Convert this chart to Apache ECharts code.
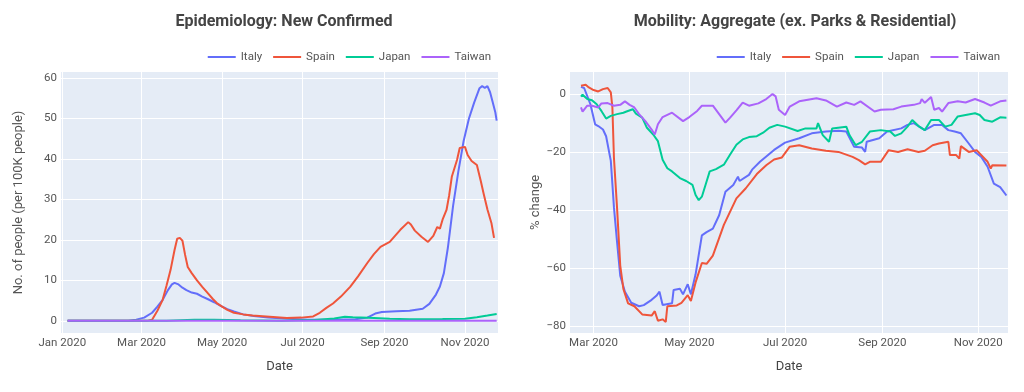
<!DOCTYPE html>
<html><head><meta charset="utf-8">
<script src="https://cdn.jsdelivr.net/npm/echarts@6/dist/echarts.min.js"></script>
<style>html,body{margin:0;padding:0;background:#fff}#c{width:1024px;height:392px}</style>
</head><body><div id="c"></div>
<script>
// ---------- DATA ----------
const seriesNames = ['Italy', 'Spain', 'Japan', 'Taiwan'];
const leftTitle = 'Epidemiology: New Confirmed';
const rightTitle = 'Mobility: Aggregate (ex. Parks & Residential)';
const leftYName = 'No. of people (per 100K people)';
const rightYName = '% change';
const xName = 'Date';

const leftXTicks = ['2020-01-01','2020-03-01','2020-05-01','2020-07-01','2020-09-01','2020-11-01'];
const rightXTicks = ['2020-03-01','2020-05-01','2020-07-01','2020-09-01','2020-11-01'];
const leftYTicks = [0, 10, 20, 30, 40, 50, 60];
const rightYTicks = [-80, -60, -40, -20, 0];

// Epidemiology (new confirmed per 100K)
const italyCasesDates = ['2020-01-05','2020-02-20','2020-02-26','2020-03-03','2020-03-09','2020-03-13','2020-03-17','2020-03-21','2020-03-24','2020-03-26','2020-03-29','2020-04-01','2020-04-04','2020-04-08','2020-04-12','2020-04-16','2020-04-20','2020-04-25','2020-04-30','2020-05-05','2020-05-10','2020-05-17','2020-05-25','2020-06-05','2020-06-20','2020-07-05','2020-07-25','2020-08-10','2020-08-19','2020-08-25','2020-08-30','2020-09-10','2020-09-20','2020-09-30','2020-10-05','2020-10-10','2020-10-13','2020-10-16','2020-10-19','2020-10-23','2020-10-27','2020-10-31','2020-11-04','2020-11-08','2020-11-12','2020-11-14','2020-11-16','2020-11-18','2020-11-20','2020-11-22','2020-11-24','2020-11-25'];
const italyCases = [0,0,0.3,0.8,2.0,3.5,5.2,7.6,9.0,9.4,9.0,8.2,7.6,7.0,6.7,6.0,5.4,4.6,3.7,2.9,2.3,1.6,1.2,0.8,0.5,0.3,0.3,0.4,0.8,1.8,2.2,2.4,2.5,3.0,4.2,6.5,8.5,11.8,18.0,28.5,37.0,44.5,50.0,54.0,57.5,58.0,57.6,58.0,56.5,54.0,51.5,49.5];

const spainCasesDates = ['2020-01-05','2020-03-05','2020-03-09','2020-03-13','2020-03-17','2020-03-20','2020-03-23','2020-03-26','2020-03-28','2020-03-30','2020-04-01','2020-04-03','2020-04-05','2020-04-08','2020-04-12','2020-04-16','2020-04-20','2020-04-24','2020-04-27','2020-05-01','2020-05-05','2020-05-10','2020-05-17','2020-05-24','2020-06-06','2020-06-19','2020-06-30','2020-07-09','2020-07-14','2020-07-19','2020-07-24','2020-07-30','2020-08-06','2020-08-12','2020-08-19','2020-08-24','2020-08-29','2020-09-05','2020-09-09','2020-09-13','2020-09-19','2020-09-21','2020-09-24','2020-09-29','2020-10-04','2020-10-08','2020-10-11','2020-10-13','2020-10-15','2020-10-18','2020-10-20','2020-10-22','2020-10-26','2020-10-28','2020-11-01','2020-11-03','2020-11-06','2020-11-10','2020-11-13','2020-11-15','2020-11-18','2020-11-21','2020-11-23'];
const spainCases = [0,0,0.3,2.5,5.2,8.8,12.6,17.5,20.3,20.5,19.8,16.3,13.3,11.8,10.0,8.4,6.9,5.4,4.4,3.5,2.7,2.0,1.6,1.3,1.0,0.7,0.8,1.1,2.0,3.2,4.3,6.0,8.4,11.0,14.3,16.5,18.3,19.5,21.0,22.5,24.4,23.8,22.3,20.8,19.5,21.0,23.2,22.8,25.0,27.4,31.0,35.6,39.8,42.7,43.0,41.0,39.5,38.5,34.5,31.6,27.5,24.2,20.5];

const japanCasesDates = ['2020-01-05','2020-03-20','2020-04-10','2020-04-25','2020-05-15','2020-06-15','2020-07-10','2020-07-25','2020-08-02','2020-08-08','2020-08-20','2020-09-05','2020-09-20','2020-10-15','2020-11-01','2020-11-10','2020-11-18','2020-11-25'];
const japanCases = [0,0.05,0.25,0.3,0.15,0.05,0.2,0.6,1.0,0.9,0.75,0.5,0.4,0.45,0.5,0.9,1.3,1.7];

const taiwanCasesDates = ['2020-01-05','2020-04-01','2020-07-01','2020-10-01','2020-11-25'];
const taiwanCases = [0,0,0,0,0];

// Mobility (% change)
const italyMobDates = ['2020-02-22','2020-02-24','2020-02-28','2020-03-02','2020-03-04','2020-03-07','2020-03-09','2020-03-12','2020-03-14','2020-03-16','2020-03-18','2020-03-21','2020-03-25','2020-03-30','2020-04-02','2020-04-07','2020-04-10','2020-04-12','2020-04-14','2020-04-20','2020-04-21','2020-04-25','2020-04-27','2020-04-30','2020-05-02','2020-05-05','2020-05-09','2020-05-12','2020-05-16','2020-05-20','2020-05-24','2020-05-29','2020-06-01','2020-06-02','2020-06-08','2020-06-10','2020-06-15','2020-06-24','2020-07-01','2020-07-10','2020-07-18','2020-07-27','2020-08-04','2020-08-09','2020-08-14','2020-08-19','2020-08-21','2020-08-22','2020-08-30','2020-09-04','2020-09-13','2020-09-17','2020-09-21','2020-09-28','2020-10-04','2020-10-09','2020-10-13','2020-10-17','2020-10-21','2020-10-26','2020-10-30','2020-11-03','2020-11-07','2020-11-11','2020-11-15','2020-11-19'];
const italyMob = [2.5,2.1,-3.5,-10.4,-11.0,-12.2,-14.5,-23,-39,-51,-62.5,-68,-71.8,-73,-72.6,-70.8,-69.4,-68,-72.6,-72,-67.4,-67,-68.9,-65.4,-68.9,-62,-48.6,-47.5,-46.3,-41.7,-33.6,-31.3,-28.4,-29.9,-27.8,-26,-23.3,-19.2,-16.7,-15.2,-13.5,-12.9,-12.6,-12.9,-18.1,-18.4,-19.9,-16.4,-15.2,-12.9,-11.8,-10.6,-10,-12.4,-10.6,-10.6,-12.4,-12.9,-13.5,-17,-19.9,-21.6,-25,-30.8,-32,-34.9];

const spainMobDates = ['2020-02-22','2020-02-25','2020-02-27','2020-03-01','2020-03-04','2020-03-07','2020-03-10','2020-03-12','2020-03-13','2020-03-14','2020-03-16','2020-03-18','2020-03-20','2020-03-23','2020-03-27','2020-04-01','2020-04-07','2020-04-09','2020-04-11','2020-04-14','2020-04-16','2020-04-17','2020-04-23','2020-04-26','2020-04-30','2020-05-02','2020-05-05','2020-05-09','2020-05-12','2020-05-16','2020-05-23','2020-05-31','2020-06-06','2020-06-13','2020-06-19','2020-06-24','2020-06-29','2020-07-04','2020-07-10','2020-07-18','2020-07-27','2020-08-04','2020-08-13','2020-08-17','2020-08-21','2020-08-24','2020-08-31','2020-09-05','2020-09-11','2020-09-17','2020-09-24','2020-09-28','2020-10-03','2020-10-07','2020-10-13','2020-10-14','2020-10-18','2020-10-20','2020-10-21','2020-10-26','2020-10-31','2020-11-03','2020-11-07','2020-11-09','2020-11-10','2020-11-19'];
const spainMob = [2.9,3.2,2.3,1.4,0.9,1.7,2.1,0.6,-4.6,-22,-39.4,-59,-67,-72,-73,-75.8,-76.2,-74.7,-78,-77.5,-78.4,-73,-72.7,-71.8,-69.2,-71.2,-64.8,-58.1,-58.4,-55.6,-45,-35.9,-32.4,-27.5,-24.5,-22.5,-21.8,-18.1,-17.6,-18.7,-19.5,-19.9,-21.6,-22.7,-24.2,-23.3,-23.3,-19.3,-19.9,-19,-19.9,-19.5,-17.6,-17,-16.4,-21,-21,-22.2,-17.9,-19.9,-19.3,-21,-23.3,-25.6,-24.5,-24.6];

const japanMobDates = ['2020-02-22','2020-02-23','2020-02-26','2020-02-29','2020-03-03','2020-03-06','2020-03-09','2020-03-12','2020-03-16','2020-03-20','2020-03-22','2020-03-26','2020-03-28','2020-04-01','2020-04-04','2020-04-08','2020-04-11','2020-04-14','2020-04-17','2020-04-20','2020-04-25','2020-04-29','2020-05-03','2020-05-05','2020-05-07','2020-05-09','2020-05-12','2020-05-14','2020-05-18','2020-05-23','2020-05-27','2020-05-31','2020-06-04','2020-06-08','2020-06-13','2020-06-17','2020-06-21','2020-06-26','2020-07-01','2020-07-09','2020-07-14','2020-07-21','2020-07-22','2020-07-25','2020-07-29','2020-07-31','2020-08-09','2020-08-11','2020-08-15','2020-08-19','2020-08-24','2020-08-31','2020-09-06','2020-09-09','2020-09-13','2020-09-17','2020-09-20','2020-09-24','2020-09-28','2020-10-02','2020-10-07','2020-10-11','2020-10-15','2020-10-19','2020-10-24','2020-10-30','2020-11-02','2020-11-05','2020-11-10','2020-11-15','2020-11-19'];
const japanMob = [-0.9,-0.2,-1.7,-2.1,-3.5,-5.8,-8.4,-7.5,-6.9,-6.4,-6.0,-5.2,-6.7,-8.1,-11.6,-13.9,-16.2,-22.6,-25.5,-26.6,-28.9,-29.9,-31.2,-34.7,-36.5,-35.3,-30.1,-26.6,-25.8,-24.3,-20.8,-17.4,-15.6,-14.8,-14.5,-13.3,-11.6,-10.6,-11.2,-12.7,-11.8,-11.8,-10,-14.1,-16.4,-11.8,-11.2,-14.1,-17.6,-16.4,-12.9,-12.4,-12.9,-14.4,-13.5,-11.2,-8.9,-11,-12.4,-8.9,-8.9,-11.2,-10.6,-7.7,-7.2,-6.6,-7.2,-8.9,-9.5,-8,-8.1];

const taiwanMobDates = ['2020-02-22','2020-02-23','2020-02-26','2020-02-29','2020-03-04','2020-03-06','2020-03-10','2020-03-14','2020-03-18','2020-03-21','2020-03-24','2020-03-27','2020-03-30','2020-04-03','2020-04-07','2020-04-09','2020-04-11','2020-04-14','2020-04-20','2020-04-27','2020-05-01','2020-05-06','2020-05-09','2020-05-16','2020-05-20','2020-05-24','2020-05-27','2020-05-31','2020-06-04','2020-06-08','2020-06-14','2020-06-19','2020-06-23','2020-06-24','2020-06-25','2020-06-27','2020-07-01','2020-07-04','2020-07-10','2020-07-21','2020-07-27','2020-08-03','2020-08-09','2020-08-14','2020-08-18','2020-08-27','2020-08-31','2020-09-08','2020-09-13','2020-09-21','2020-09-25','2020-09-26','2020-09-28','2020-10-02','2020-10-04','2020-10-07','2020-10-09','2020-10-13','2020-10-19','2020-10-24','2020-10-30','2020-11-05','2020-11-09','2020-11-15','2020-11-19'];
const taiwanMob = [-4.6,-6.0,-4.0,-4.0,-4.6,-3.2,-3.1,-4.0,-3.7,-2.5,-3.7,-4.6,-6.9,-9.3,-12.2,-13.9,-10.4,-7.9,-6.4,-9.3,-7.9,-5.8,-4.0,-4.0,-6.9,-9.8,-8.1,-5.6,-2.9,-4.0,-3.2,-1.7,0.0,0.6,-0.8,-5.4,-7.2,-4.3,-2.5,-1.4,-2.2,-4.3,-2.9,-3.7,-2.5,-6.0,-5.4,-5.2,-4.3,-3.7,-3.1,-1.7,-3.0,-1.0,-5.4,-4.8,-6.0,-3.1,-2.5,-2.9,-1.7,-2.9,-4.0,-2.5,-2.2];

// ---------- CHART ----------
const colors = ['#636EFA', '#EF553B', '#00CC96', '#AB63FA'];
const FONT = 'Roboto';
const ts = s => { const p = s.split('-').map(Number); return new Date(p[0], p[1]-1, p[2]).getTime(); };
const MONTHS = ['Jan','Feb','Mar','Apr','May','Jun','Jul','Aug','Sep','Oct','Nov','Dec'];
const fmtDate = v => { const d = new Date(v); return MONTHS[d.getMonth()] + ' ' + d.getFullYear(); };
const pair = (dates, vals) => dates.map((d, i) => [ts(d), vals[i]]);

const leftData = [pair(italyCasesDates, italyCases), pair(spainCasesDates, spainCases), pair(japanCasesDates, japanCases), pair(taiwanCasesDates, taiwanCases)];
const rightData = [pair(italyMobDates, italyMob), pair(spainMobDates, spainMob), pair(japanMobDates, japanMob), pair(taiwanMobDates, taiwanMob)];

const labelColor = '#555';
function xAxis(gi, ticks, min, max) {
  const tv = ticks.map(ts);
  return {
    type: 'value', gridIndex: gi, min: ts(min), max: ts(max),
    name: xName, nameLocation: 'middle', nameGap: 27,
    nameTextStyle: { fontFamily: FONT, fontSize: 13, color: '#444' },
    axisLine: { show: false },
    axisTick: { show: false, customValues: tv },
    axisLabel: { customValues: tv, formatter: fmtDate, color: labelColor, fontFamily: FONT, fontSize: 11.5, margin: 4, hideOverlap: false },
    splitLine: { show: true, lineStyle: { color: '#fff', width: 1 } }
  };
}
function yAxis(gi, ticks, min, max, name, gap) {
  return {
    type: 'value', gridIndex: gi, min: min, max: max,
    name: name, nameLocation: 'middle', nameGap: gap,
    nameTextStyle: { fontFamily: FONT, fontSize: 13, color: '#555' },
    axisLine: { show: false },
    axisTick: { show: false, customValues: ticks },
    axisLabel: { customValues: ticks, formatter: v => String(v).replace('-', '\u2212'), color: labelColor, fontFamily: FONT, fontSize: 11.5, margin: 4 },
    splitLine: { show: true, lineStyle: { color: '#fff', width: 1 } }
  };
}
const series = [];
seriesNames.forEach((n, i) => {
  series.push({ name: n, type: 'line', xAxisIndex: 0, yAxisIndex: 0, data: leftData[i], showSymbol: false, symbol: 'none', smooth: false, lineStyle: { width: 2, color: colors[i] }, itemStyle: { color: colors[i] } });
});
seriesNames.forEach((n, i) => {
  series.push({ name: n, type: 'line', xAxisIndex: 1, yAxisIndex: 1, data: rightData[i], showSymbol: false, symbol: 'none', smooth: false, lineStyle: { width: 2, color: colors[i] }, itemStyle: { color: colors[i] } });
});

const legendCommon = { data: seriesNames, top: 46, icon: 'rect', itemWidth: 28, itemHeight: 2, itemGap: 11, textStyle: { fontFamily: FONT, fontSize: 11.5, color: '#555' }, selectedMode: false };

const chart = echarts.init(document.getElementById('c'), null, { renderer: 'canvas' });
chart.setOption({
  animation: false,
  color: colors,
  title: [
    { text: leftTitle, left: 279, top: 9, textAlign: 'center', textStyle: { fontFamily: FONT, fontSize: 16, fontWeight: 'bold', color: '#444' } },
    { text: rightTitle, left: 790, top: 9, textAlign: 'center', textStyle: { fontFamily: FONT, fontSize: 16, fontWeight: 'bold', color: '#444' } }
  ],
  legend: [
    Object.assign({ right: 528 }, legendCommon),
    Object.assign({ right: 19 }, legendCommon)
  ],
  grid: [
    { left: 61, right: 526, top: 72, bottom: 59, show: true, backgroundColor: '#E5ECF6', borderWidth: 0 },
    { left: 570, right: 16, top: 72, bottom: 59, show: true, backgroundColor: '#E5ECF6', borderWidth: 0 }
  ],
  xAxis: [xAxis(0, leftXTicks, '2019-12-31', '2020-11-26'), xAxis(1, rightXTicks, '2020-02-15', '2020-11-20')],
  yAxis: [yAxis(0, leftYTicks, -3, 61.5, leftYName, 36), yAxis(1, rightYTicks, -82.2, 7.6, rightYName, 26)],
  series: series
});
</script></body></html>
